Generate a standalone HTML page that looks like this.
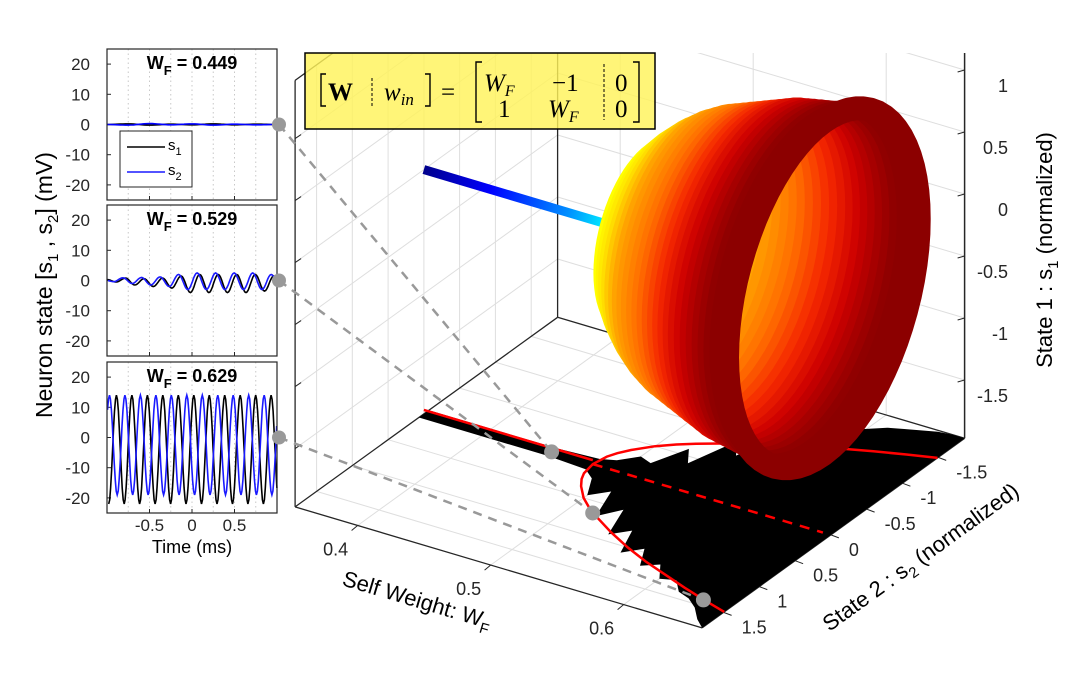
<!DOCTYPE html>
<html><head><meta charset="utf-8">
<style>
html,body{margin:0;padding:0;background:#fff;}
svg{display:block;font-family:"Liberation Sans",sans-serif;}
</style></head>
<body>
<svg id="fig" width="1092" height="690" viewBox="0 0 1092 690" xmlns="http://www.w3.org/2000/svg">
<defs>
<linearGradient id="blueGrad" gradientUnits="userSpaceOnUse" x1="424" y1="170" x2="646" y2="236">
<stop offset="0" stop-color="#00008c"/><stop offset="0.3" stop-color="#0000ff"/><stop offset="0.65" stop-color="#0090ff"/><stop offset="0.85" stop-color="#00ffff"/><stop offset="1" stop-color="#40ffc0"/>
</linearGradient>
<clipPath id="clip3d"><rect x="0" y="53" width="1092" height="637"/></clipPath>
</defs>
<g id="g3d" clip-path="url(#clip3d)"></g>
<g id="gleft"></g>
<g id="gconn"></g>

<g>
<rect x="305" y="53" width="350" height="76" fill="#fff35a" fill-opacity="0.82" stroke="#000" stroke-width="1.5"/>
<g font-family="'Liberation Serif',serif" font-size="25" fill="#000">
<path d="M326 74 h-5 v32 h5 M425 74 h5 v32 h-5" fill="none" stroke="#000" stroke-width="1.4"/>
<text x="328" y="100" font-weight="bold">W</text>
<line x1="372" y1="78" x2="372" y2="106" stroke="#000" stroke-dasharray="3 2" stroke-width="1"/>
<text x="384" y="100" font-style="italic">w<tspan font-size="17" dy="5">in</tspan></text>
<text x="441" y="100">=</text>
<path d="M482 62 h-6 v60 h6 M633 62 h6 v60 h-6" fill="none" stroke="#000" stroke-width="1.4"/>
<text x="484" y="91" font-style="italic">W<tspan font-size="16" dy="5">F</tspan></text>
<text x="552" y="91">−1</text>
<line x1="604" y1="64" x2="604" y2="120" stroke="#000" stroke-dasharray="3 2" stroke-width="1"/>
<text x="615" y="91">0</text>
<text x="498" y="117">1</text>
<text x="548" y="117" font-style="italic">W<tspan font-size="16" dy="5">F</tspan></text>
<text x="615" y="117">0</text>
</g>
</g>
</svg>
<script>
// ===== data: 3D trajectory =====
const blueWF = [0.353, 0.52];
const ringWF = [0.523,0.528,0.533,0.538,0.543,0.548,0.553,0.558,0.563,0.568,0.573,0.578,0.583,0.588,0.593,0.598,0.603,0.608,0.613,0.618,0.623,0.628,0.633,0.638,0.643,0.648,0.653];
const ringR  = [0.70,0.76,0.82,0.87,0.92,0.96,1.0,1.03,1.06,1.08,1.1,1.12,1.14,1.16,1.18,1.2,1.22,1.24,1.25,1.26,1.27,1.28,1.29,1.3,1.31,1.32,1.34];
const curveWF = [0.48,0.482,0.485,0.49,0.5,0.51,0.52,0.54,0.56,0.58,0.6,0.62,0.64,0.659];
const curveR  = [0,0.16,0.25,0.35,0.5,0.61,0.7,0.86,1.0,1.12,1.22,1.32,1.41,1.49];
const shadowWF    = [0.353,0.40,0.45,0.48,0.49,0.50,0.51,0.52,0.53,0.54,0.55,0.56,0.57,0.58,0.59,0.60,0.61,0.62,0.63,0.64,0.65,0.659];
const shadowFront = [0.07,0.07,0.07,0.1,0.2,0.45,0.3,0.7,0.5,0.9,0.75,1.1,0.95,1.2,1.1,1.3,1.25,1.4,1.45,1.55,1.7,1.8];
const shadowBack  = [-0.07,-0.07,-0.07,-0.1,-0.15,-0.3,-0.25,-0.6,-0.4,-0.9,-0.7,-1.2,-1.0,-1.4,-1.5,-1.6,-1.7,-1.75,-1.8,-1.85,-1.87,-1.87];
const wfTicks = [0.4,0.5,0.6];
const s2Ticks = [-1.5,-1,-0.5,0,0.5,1,1.5];
const zTicks  = [-1.5,-1,-0.5,0,0.5,1];
const markerWF = [0.449, 0.516, 0.639];
const markerS2 = [0, 0.67, 1.41];
const dashEndWF = [0.653];

// ===== data: time panels =====
const yTicks = [20,10,0,-10,-20];
const tTicks = [-0.5,0,0.5];
const panelTitles = ['0.449','0.529','0.629'];
const p1Black = [0,0.2,-0.2,0.1,-0.1,0.2,-0.1,0.1,0];
const p1Blue  = [0,-0.2,0.3,-0.1,0.2,-0.2,0.1,-0.1,0];
const p2Black = [0.3,-0.5,0.8,-1.5,0.6,-2,0.8,-2.5,1.5,-4,2,-4,2,-4,2,-4,2,-3.5,1.5,-3,1];
const p2Blue  = [0.2,-0.4,0.9,-1,1,-1.5,1.2,-2,2,-3,2.5,-3,2.5,-3,2.5,-3,2.5,-3,2,-2.5,1.5];
const p3Black = [-22,14,-22,14,-22,14,-22,14,-22,14,-22,14,-22,14,-22,14,-22,14,-22,14,-22,14,-22,14];
const p3Blue  = [-19,14,-19,14,-19,14,-19,14,-19,14,-19,14,-19,14,-19,14,-19,14,-19,14,-19,14,-19,14];
const p1Start = [-1.0,-1.0]; const p1Half = 0.25;
const p2Start = [-1.0,-1.03]; const p2Half = 0.109;
const p3Start = [-0.98,-1.062]; const p3Half = 0.091;

const NS='http://www.w3.org/2000/svg';
function mk(parent, tag, attrs){const e=document.createElementNS(NS,tag);for(const k in attrs)e.setAttribute(k,attrs[k]);parent.appendChild(e);return e;}

const ZMIN=-1.97, ZTOP=1.16, S2F=1.8, S2B=-1.87, WMIN=0.353, WMAX=0.659;
function P(wf,s2,z){
  const u=(wf-WMIN)/(WMAX-WMIN), v=0.49-0.272*s2;
  return [295+407*u+263*v, 507+121*u-190*v-(z-ZMIN)*124];
}
const g3=document.getElementById('g3d');
function line3(a,b,stroke,w,name){
  const l=mk(g3,'line',{x1:a[0].toFixed(1),y1:a[1].toFixed(1),x2:b[0].toFixed(1),y2:b[1].toFixed(1),stroke:stroke,'stroke-width':w});
  
  
  return l;
}
const GC='#dedede';
const LTOP=1.47;
for(const s of s2Ticks){ line3(P(WMIN,s,ZMIN),P(WMIN,s,LTOP),GC,1,'left-wall-gridline'); }
for(const z of zTicks){ line3(P(WMIN,S2F,z),P(WMIN,S2B,z),GC,1,'left-wall-gridline'); }
for(const w of wfTicks){ line3(P(w,S2B,ZMIN),P(w,S2B,ZTOP),GC,1,'back-wall-gridline'); }
for(const z of zTicks){ line3(P(WMIN,S2B,z),P(WMAX,S2B,z),GC,1,'back-wall-gridline'); }
for(const w of wfTicks){ line3(P(w,S2F,ZMIN),P(w,S2B,ZMIN),GC,1,'floor-gridline'); }
for(const s of s2Ticks){ line3(P(WMIN,s,ZMIN),P(WMAX,s,ZMIN),GC,1,'floor-gridline'); }
const EC='#262626';
line3(P(WMIN,S2F,ZMIN),P(WMAX,S2F,ZMIN),EC,1.3,'floor-front-edge');
line3(P(WMAX,S2F,ZMIN),P(WMAX,S2B,ZMIN),EC,1.3,'floor-right-edge');
line3(P(WMIN,S2F,ZMIN),P(WMIN,S2B,ZMIN),EC,1.3,'floor-left-edge');
line3(P(WMIN,S2B,ZMIN),P(WMAX,S2B,ZMIN),EC,1.3,'floor-back-edge');
line3(P(WMIN,S2F,ZMIN),P(WMIN,S2F,LTOP),EC,1.3,'front-left-edge');
line3(P(WMIN,S2F,LTOP),P(WMIN,S2B,LTOP),EC,1.3,'left-top-edge');
line3(P(WMIN,S2B,ZMIN),P(WMIN,S2B,ZTOP+1),EC,1.3,'back-left-edge');
line3(P(WMAX,S2B,ZMIN),P(WMAX,S2B,ZTOP),EC,1.5,'z-axis-line');
for(const z of zTicks){ const a=P(WMAX,S2B,z); line3(a,[a[0]-7,a[1]+2],EC,1,'z-tick'); const b=P(WMIN,S2F,z); line3(b,[b[0]+6,b[1]-4],EC,1,'z-tick-left'); }
for(const w of wfTicks){ const a=P(w,S2F,ZMIN); line3(a,[a[0]-6,a[1]+5],EC,1,'wf-tick'); }
for(const s of s2Ticks){ const a=P(WMAX,s,ZMIN); line3(a,[a[0]+8,a[1]+3],EC,1,'s2-tick'); }
for(const w of wfTicks){ const a=P(w,S2F,ZMIN);
  const t=mk(g3,'text',{x:(a[0]-22).toFixed(1),y:(a[1]+30).toFixed(1),'font-size':18,fill:'#262626','text-anchor':'middle'}); t.textContent=String(w);
  
   }
for(const s of s2Ticks){ const a=P(WMAX,s,ZMIN);
  const t=mk(g3,'text',{x:(a[0]+18).toFixed(1),y:(a[1]+21).toFixed(1),'font-size':18,fill:'#262626'}); t.textContent=String(s);
  
   }
for(const z of zTicks){ const a=P(WMAX,S2B,z);
  const t=mk(g3,'text',{x:1008,y:(a[1]+22).toFixed(1),'font-size':18,fill:'#262626','text-anchor':'end'}); t.textContent=String(z);
  
   }
{
 let t=mk(g3,'text',{x:415,y:607,'font-size':22,fill:'#000','text-anchor':'middle',transform:'rotate(16.6 415 607)'});
 t.innerHTML='Self Weight: W<tspan font-size="15" dy="6">F</tspan>';
 
 
 t=mk(g3,'text',{x:925,y:563,'font-size':22,fill:'#000','text-anchor':'middle',transform:'rotate(-35.8 925 563)'});
 t.innerHTML='State 2 : s<tspan font-size="15" dy="6">2</tspan><tspan dy="-6"> (normalized)</tspan>';
 
 
 t=mk(g3,'text',{x:1052,y:250,'font-size':22,fill:'#000','text-anchor':'middle',transform:'rotate(-90 1052 250)'});
 t.innerHTML='State 1 : s<tspan font-size="15" dy="6">1</tspan><tspan dy="-6"> (normalized)</tspan>';
 
 
}
{
 let pts=[];
 for(let i=0;i<shadowWF.length;i++){ const p=P(shadowWF[i],shadowFront[i],ZMIN); pts.push(p[0].toFixed(1)+','+p[1].toFixed(1)); }
 for(let i=shadowWF.length-1;i>=0;i--){ const p=P(shadowWF[i],shadowBack[i],ZMIN); pts.push(p[0].toFixed(1)+','+p[1].toFixed(1)); }
 const sh=mk(g3,'polygon',{points:pts.join(' '),fill:'#000'});
 
 
}
{
 let d='';
 for(let i=curveWF.length-1;i>=0;i--){ const p=P(curveWF[i],curveR[i],ZMIN); d+=(d?'L':'M')+p[0].toFixed(1)+' '+p[1].toFixed(1); }
 for(let i=1;i<curveWF.length;i++){ const p=P(curveWF[i],-curveR[i],ZMIN); d+='L'+p[0].toFixed(1)+' '+p[1].toFixed(1); }
 const c=mk(g3,'path',{d:d,fill:'none',stroke:'#ff0000','stroke-width':2.5});
 
 
 const a=P(WMIN,0,ZMIN), b=P(curveWF[0],0,ZMIN), e=P(dashEndWF[0],0,ZMIN);
 const s1=mk(g3,'line',{x1:a[0],y1:a[1]-4,x2:b[0],y2:b[1]-4,stroke:'#ff0000','stroke-width':2.5});
 
 
 const s2=mk(g3,'line',{x1:b[0],y1:b[1],x2:e[0],y2:e[1],stroke:'#ff0000','stroke-width':2.5,'stroke-dasharray':'10 8'});
 
 
}
{
 const a=P(blueWF[0],0,0), b=P(blueWF[1],0,0);
 const l=mk(g3,'line',{x1:a[0],y1:a[1],x2:b[0],y2:b[1],stroke:'url(#blueGrad)','stroke-width':9});
 
 
}
const hotStops=[[0,[255,255,0]],[0.12,[255,225,0]],[0.25,[255,165,0]],[0.45,[255,110,0]],[0.62,[245,40,0]],[0.78,[205,0,0]],[0.9,[165,0,0]],[1,[140,0,0]]];
function hot(f){ for(let i=1;i<hotStops.length;i++){ if(f<=hotStops[i][0]){ const a=hotStops[i-1],b=hotStops[i],k=(f-a[0])/(b[0]-a[0]); return 'rgb('+a[1].map((c,j)=>Math.round(c+(b[1][j]-c)*k)).join(',')+')'; } } return 'rgb(140,0,0)'; }
for(let i=0;i<ringWF.length;i++){
  let d='';
  for(let k=0;k<=72;k++){ const th=k/72*2*Math.PI; const p=P(ringWF[i],ringR[i]*Math.cos(th),ringR[i]*Math.sin(th)); d+=(k?'L':'M')+p[0].toFixed(1)+' '+p[1].toFixed(1); }
  const f=Math.min(1,i/((ringWF.length-1)*0.9));
  const last=i===ringWF.length-1;
  const r=mk(g3,'path',{d:d+'Z',fill:'none',stroke:hot(f),'stroke-width':last?24:13,'stroke-linejoin':'round'});
  
  
}

// ===== time panels =====
const gl=document.getElementById('gleft');
const PX0=107, PX1=277, panelTop=[49,205,362], PH=151;
function tx(t){ return 192+t*85; }
function vy(p,v){ return panelTop[p]+PH/2 - v*PH/50; }
function drawTrace(p, ext, t0, half, color, name){
  let d='';
  for(let i=0;i<ext.length-1;i++){
    for(let k=0;k<=8;k++){
      const t=t0+(i+k/8)*half; if(t<-1||t>1) continue;
      const v=ext[i]+(ext[i+1]-ext[i])*(1-Math.cos(Math.PI*k/8))/2;
      d+=(d?'L':'M')+tx(t).toFixed(1)+' '+vy(p,v).toFixed(1);
    }
  }
  const e=mk(gl,'path',{d:d,fill:'none',stroke:color,'stroke-width':1.6});
  
  
}
for(let p=0;p<3;p++){
  const top=panelTop[p];
  for(let t=-0.75;t<1;t+=0.25){
    const g=mk(gl,'line',{x1:tx(t),y1:top,x2:tx(t),y2:top+PH,stroke:'#c8c8c8','stroke-dasharray':'1.5 3','stroke-width':1});
    
    
  }
  for(const v of yTicks){
    const tk=mk(gl,'line',{x1:PX0,y1:vy(p,v),x2:PX0+4,y2:vy(p,v),stroke:'#262626'});
    
    
    const tl=mk(gl,'text',{x:90,y:vy(p,v)+6,'font-size':17,fill:'#262626','text-anchor':'end'}); tl.textContent=String(v);
    
    
  }
  for(const t of tTicks){
    const tk=mk(gl,'line',{x1:tx(t),y1:top+PH,x2:tx(t),y2:top+PH-4,stroke:'#262626'});
    
    
  }
}
drawTrace(0,p1Black,p1Start[0],p1Half,'#000','s1-trace-0449');
drawTrace(0,p1Blue,p1Start[1],p1Half,'#0000ff','s2-trace-0449');
drawTrace(1,p2Black,p2Start[0],p2Half,'#000','s1-trace-0529');
drawTrace(1,p2Blue,p2Start[1],p2Half,'#1a1aff','s2-trace-0529');
drawTrace(2,p3Black,p3Start[0],p3Half,'#000','s1-trace-0629');
drawTrace(2,p3Blue,p3Start[1],p3Half,'#1a1aff','s2-trace-0629');
for(let p=0;p<3;p++){
  const top=panelTop[p];
  const b=mk(gl,'rect',{x:PX0,y:top,width:PX1-PX0,height:PH,fill:'none',stroke:'#262626','stroke-width':1.2});
  
  
  const t=mk(gl,'text',{x:192,y:top+20,'font-size':18,'font-weight':'bold',fill:'#000','text-anchor':'middle'});
  t.innerHTML='W<tspan font-size="13" dy="6">F</tspan><tspan dy="-6"> = '+panelTitles[p]+'</tspan>';
  
  
}
for(const t of tTicks){
  const l=mk(gl,'text',{x:tx(t),y:531,'font-size':17,fill:'#262626','text-anchor':'middle'}); l.textContent=String(t);
  
  
}
{
 let t=mk(gl,'text',{x:192,y:553,'font-size':18,fill:'#000','text-anchor':'middle'}); t.textContent='Time (ms)';
 
 
 t=mk(gl,'text',{x:52,y:285,'font-size':23,fill:'#000','text-anchor':'middle',transform:'rotate(-90 52 285)'});
 t.innerHTML='Neuron state  [s<tspan font-size="15" dy="6">1</tspan><tspan dy="-6"> , s</tspan><tspan font-size="15" dy="6">2</tspan><tspan dy="-6">] (mV)</tspan>';
 
 
 const lg=mk(gl,'g',{});
 
 
 const r=mk(lg,'rect',{x:120,y:131,width:72,height:56,fill:'#fff',stroke:'#262626'});
 
 
 const l1=mk(lg,'line',{x1:127,y1:147,x2:165,y2:147,stroke:'#000','stroke-width':1.5});
 
 
 const l2=mk(lg,'line',{x1:127,y1:172,x2:165,y2:172,stroke:'#1a1aff','stroke-width':1.5});
 
 
 const a=mk(lg,'text',{x:168,y:150,'font-size':15,fill:'#000'}); a.innerHTML='s<tspan font-size="11" dy="5">1</tspan>';
 
 
 const b=mk(lg,'text',{x:168,y:175,'font-size':15,fill:'#000'}); b.innerHTML='s<tspan font-size="11" dy="5">2</tspan>';
 
 
}

const gc=document.getElementById('gconn');
for(let i=0;i<3;i++){
  const a=[279, vy(i,0)], b=P(markerWF[i],markerS2[i],ZMIN);
  const l=mk(gc,'line',{x1:a[0],y1:a[1],x2:b[0].toFixed(1),y2:b[1].toFixed(1),stroke:'#999','stroke-width':2.5,'stroke-dasharray':'9 7'});
  
  
  const c1=mk(gc,'circle',{cx:a[0],cy:a[1],r:7,fill:'#999'});
  
  
  const c2=mk(gc,'circle',{cx:b[0].toFixed(1),cy:b[1].toFixed(1),r:7.5,fill:'#999'});
  
  
}
</script>
</body></html>
